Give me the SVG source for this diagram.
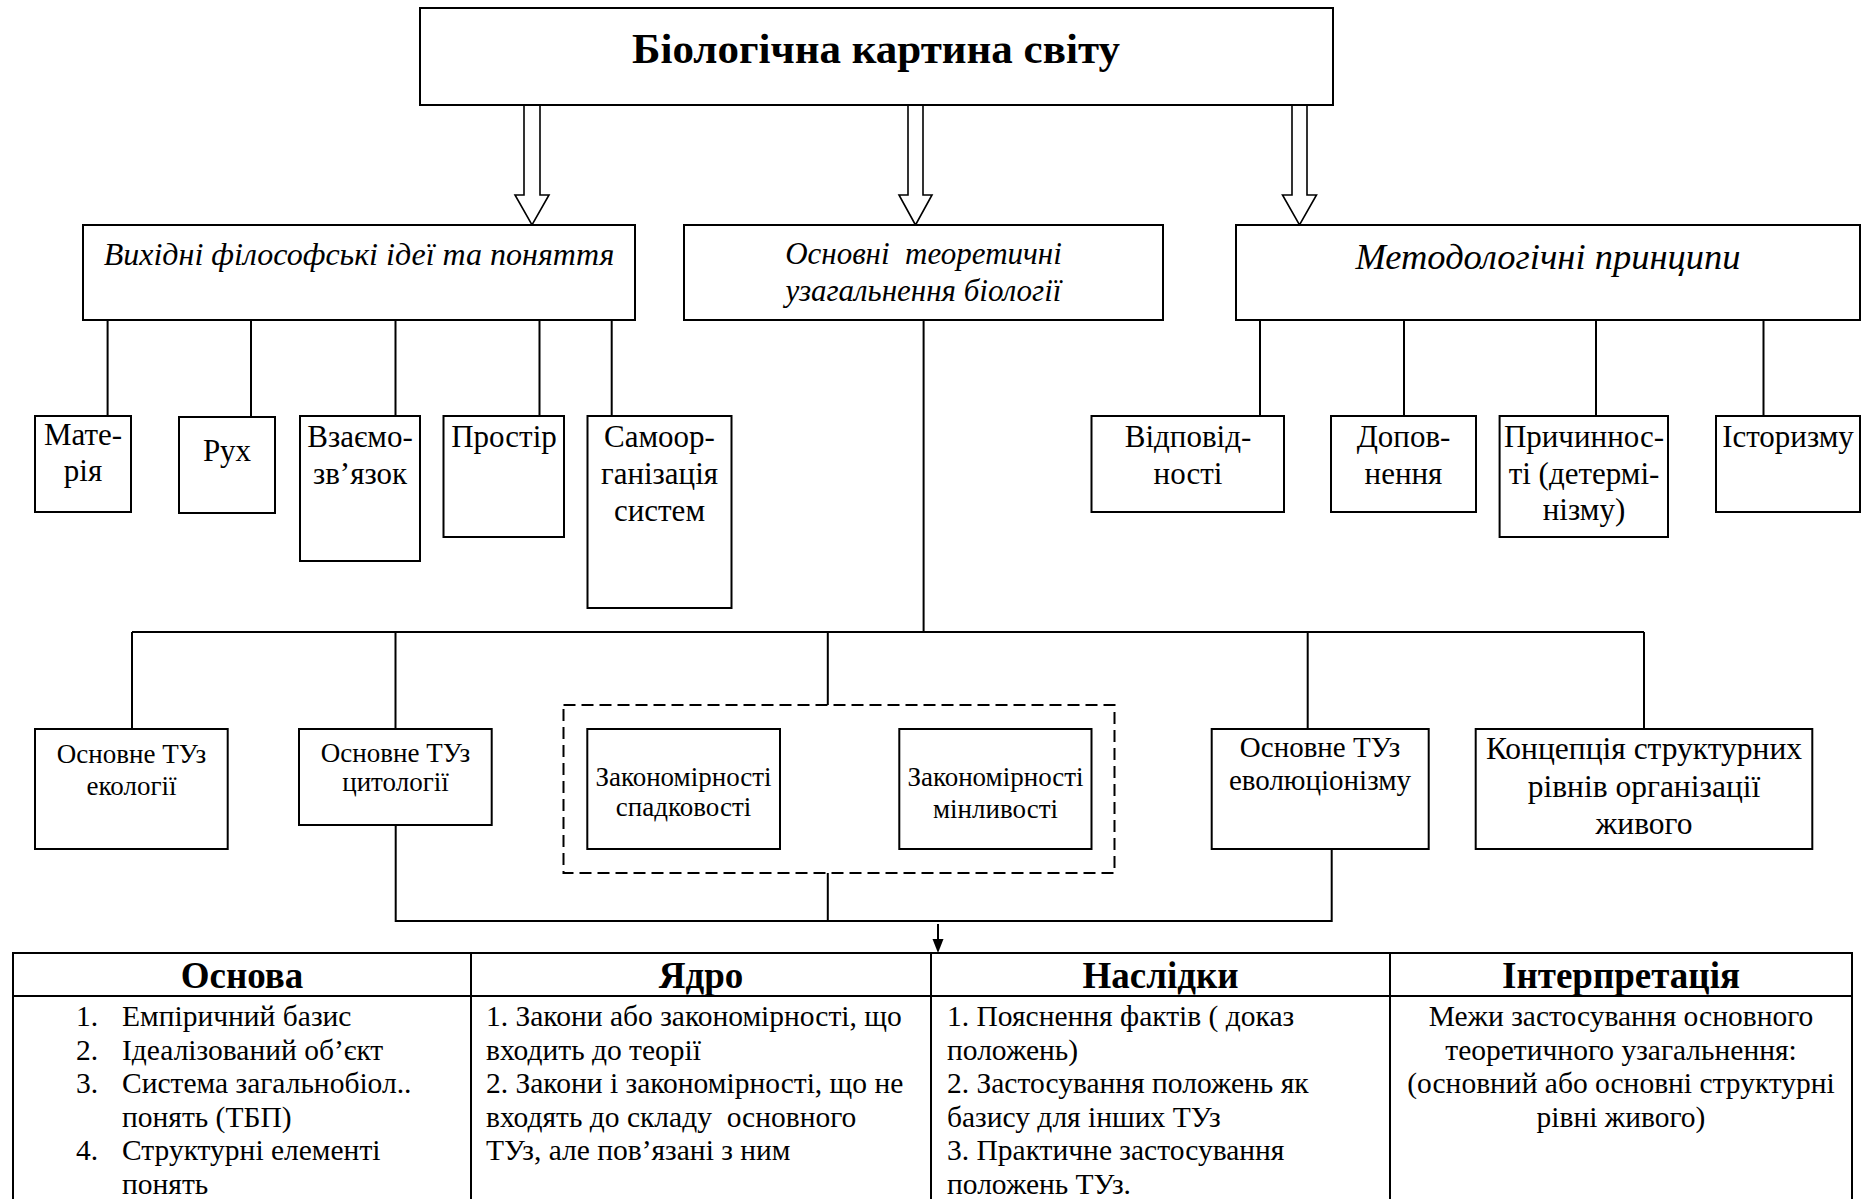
<svg xmlns="http://www.w3.org/2000/svg" width="1865" height="1199" viewBox="0 0 1865 1199">
  <style>
    .box { fill: #fff; stroke: #000; stroke-width: 2; }
    .dash { fill: none; stroke: #000; stroke-width: 2; stroke-dasharray: 12 6; }
    .ln { fill: none; stroke: #000; stroke-width: 2; }
    .harrow { fill: #fff; stroke: #000; stroke-width: 1.6; stroke-linejoin: miter; }
    .head { fill: #000; stroke: none; }
    text { font-family: "Liberation Serif", "Times New Roman", serif; fill: #000; }
    .c { text-anchor: middle; }
    .title { font-size: 43px; font-weight: bold; }
    .it { font-style: italic; }
    .sub { font-size: 31px; }
    .th { font-size: 37px; font-weight: bold; text-anchor: middle; }
    .td { font-size: 29.5px; }
  </style>

  <!-- connectors -->
  <g id="connectors">
    <!-- hollow arrows from the title -->
    <path class="harrow" d="M524 105 V195 H515 L532 225 L549 195 H540 V105"/>
    <path class="harrow" d="M908 105 V195 H899 L915.5 225 L932 195 H923 V105"/>
    <path class="harrow" d="M1292 105 V195 H1282.5 L1299.5 225 L1316.5 195 H1307 V105"/>
    <!-- philosophical ideas -->
    <path class="ln" d="M107.6 320 V416 M251 320 V417 M395.5 320 V416 M539.5 320 V416 M611.7 320 V416"/>
    <!-- methodological principles -->
    <path class="ln" d="M1260 320 V416 M1404 320 V416 M1596 320 V416 M1763.5 320 V416"/>
    <!-- theoretical generalisations bus -->
    <path class="ln" d="M923.6 320 V632 M132 632 H1644 M132 632 V729 M395.5 632 V729 M827.8 632 V705 M1307.7 632 V729 M1644 632 V729"/>
    <!-- collector to the table -->
    <path class="ln" d="M395.7 825 V921 H1331.7 V849 M827.8 873 V921"/>
    <path class="ln" d="M938 924 V941"/>
    <path class="head" d="M932.5 939 H943.5 L938 953 Z"/>
  </g>

  <!-- top node -->
  <g id="n-title">
    <rect class="box" x="420" y="8" width="913" height="97"/>
    <text class="title c" x="876" y="63">Біологічна картина світу</text>
  </g>

  <!-- second level -->
  <g id="n-ideas">
    <rect class="box" x="83" y="225" width="552" height="95"/>
    <text class="it c" x="359" y="265" font-size="32">Вихідні філософські ідеї та поняття</text>
  </g>
  <g id="n-theory">
    <rect class="box" x="684" y="225" width="479" height="95"/>
    <text class="it c" x="923.5" y="264" font-size="31" xml:space="preserve">Основні  теоретичні</text>
    <text class="it c" x="923.5" y="301" font-size="31">узагальнення біології</text>
  </g>
  <g id="n-methods">
    <rect class="box" x="1236" y="225" width="624" height="95"/>
    <text class="it c" x="1548" y="269" font-size="36.5">Методологічні принципи</text>
  </g>

  <!-- philosophical ideas: items -->
  <g id="n-matter">
    <rect class="box" x="35" y="416" width="96" height="96"/>
    <text class="sub c" x="83" y="445">Мате-</text>
    <text class="sub c" x="83" y="481">рія</text>
  </g>
  <g id="n-motion">
    <rect class="box" x="179" y="417" width="96" height="96"/>
    <text class="sub c" x="227" y="461">Рух</text>
  </g>
  <g id="n-interaction">
    <rect class="box" x="300" y="416" width="120" height="145"/>
    <text class="sub c" x="360" y="447">Взаємо-</text>
    <text class="sub c" x="360" y="484">зв’язок</text>
  </g>
  <g id="n-space">
    <rect class="box" x="443.5" y="416" width="120.5" height="121"/>
    <text class="sub c" x="504" y="447">Простір</text>
  </g>
  <g id="n-selforg">
    <rect class="box" x="587.5" y="416" width="144" height="192"/>
    <text class="sub c" x="659.5" y="447">Самоор-</text>
    <text class="sub c" x="659.5" y="484">ганізація</text>
    <text class="sub c" x="659.5" y="521">систем</text>
  </g>

  <!-- methodological principles: items -->
  <g id="n-correspondence">
    <rect class="box" x="1091.5" y="416" width="192.5" height="96"/>
    <text class="sub c" x="1188" y="447">Відповід-</text>
    <text class="sub c" x="1188" y="484">ності</text>
  </g>
  <g id="n-complement">
    <rect class="box" x="1331" y="416" width="145" height="96"/>
    <text class="sub c" x="1403.5" y="447">Допов-</text>
    <text class="sub c" x="1403.5" y="484">нення</text>
  </g>
  <g id="n-causality">
    <rect class="box" x="1499.6" y="416" width="168.4" height="121"/>
    <text class="sub c" x="1584" y="447">Причиннос-</text>
    <text class="sub c" x="1584" y="484">ті (детермі-</text>
    <text class="sub c" x="1584" y="520">нізму)</text>
  </g>
  <g id="n-historism">
    <rect class="box" x="1716" y="416" width="144" height="96"/>
    <text class="sub c" x="1788" y="447">Історизму</text>
  </g>

  <!-- theoretical generalisations -->
  <g id="n-ecology">
    <rect class="box" x="35" y="729" width="192.7" height="120"/>
    <text class="c" x="131.5" y="763" font-size="27">Основне ТУз</text>
    <text class="c" x="131.5" y="795" font-size="27">екології</text>
  </g>
  <g id="n-cytology">
    <rect class="box" x="299" y="729" width="192.7" height="96"/>
    <text class="c" x="395.5" y="762" font-size="27">Основне ТУз</text>
    <text class="c" x="395.5" y="791" font-size="27">цитології</text>
  </g>
  <g id="n-genetics">
    <rect class="dash" x="563.5" y="705" width="551" height="168"/>
    <g id="n-heredity">
      <rect class="box" x="587.3" y="729" width="192.7" height="120"/>
      <text class="c" x="683.5" y="786" font-size="27">Закономірності</text>
      <text class="c" x="683.5" y="816" font-size="27">спадковості</text>
    </g>
    <g id="n-variability">
      <rect class="box" x="899.3" y="729" width="192.2" height="120"/>
      <text class="c" x="995.5" y="786" font-size="27">Закономірності</text>
      <text class="c" x="995.5" y="818" font-size="27">мінливості</text>
    </g>
  </g>
  <g id="n-evolution">
    <rect class="box" x="1211.7" y="729" width="217" height="120"/>
    <text class="c" x="1320" y="757" font-size="29">Основне ТУз</text>
    <text class="c" x="1320" y="790" font-size="29">еволюціонізму</text>
  </g>
  <g id="n-levels">
    <rect class="box" x="1475.7" y="729" width="336.6" height="120"/>
    <text class="c" x="1644" y="759" font-size="31.5">Концепція структурних</text>
    <text class="c" x="1644" y="797" font-size="31.5">рівнів організації</text>
    <text class="c" x="1644" y="834" font-size="31.5">живого</text>
  </g>

  <!-- theory structure table -->
  <g id="n-table">
    <path class="ln" d="M13 1205 V953 H1852 V1205 M13 996 H1852 M471 953 V1205 M931 953 V1205 M1390 953 V1205"/>
    <text class="th" x="242" y="988">Основа</text>
    <text class="th" x="701" y="988">Ядро</text>
    <text class="th" x="1160.5" y="988">Наслідки</text>
    <text class="th" x="1621" y="988">Інтерпретація</text>

    <g class="td">
      <text x="76" y="1026">1.</text><text x="122" y="1026">Емпіричний базис</text>
      <text x="76" y="1060">2.</text><text x="122" y="1060">Ідеалізований об’єкт</text>
      <text x="76" y="1093">3.</text><text x="122" y="1093">Система загальнобіол..</text>
      <text x="122" y="1127">понять (ТБП)</text>
      <text x="76" y="1160">4.</text><text x="122" y="1160">Структурні елементі</text>
      <text x="122" y="1194">понять</text>
    </g>
    <g class="td">
      <text x="486" y="1026">1. Закони або закономірності, що</text>
      <text x="486" y="1060">входить до теорії</text>
      <text x="486" y="1093">2. Закони і закономірності, що не</text>
      <text x="486" y="1127" xml:space="preserve">входять до складу  основного</text>
      <text x="486" y="1160">ТУз, але пов’язані з ним</text>
    </g>
    <g class="td">
      <text x="947" y="1026">1. Пояснення фактів ( доказ</text>
      <text x="947" y="1060">положень)</text>
      <text x="947" y="1093">2. Застосування положень як</text>
      <text x="947" y="1127">базису для інших ТУз</text>
      <text x="947" y="1160">3. Практичне застосування</text>
      <text x="947" y="1194">положень ТУз.</text>
    </g>
    <g class="td c">
      <text x="1621" y="1026">Межи застосування основного</text>
      <text x="1621" y="1060">теоретичного узагальнення:</text>
      <text x="1621" y="1093">(основний або основні структурні</text>
      <text x="1621" y="1127">рівні живого)</text>
    </g>
  </g>
</svg>
